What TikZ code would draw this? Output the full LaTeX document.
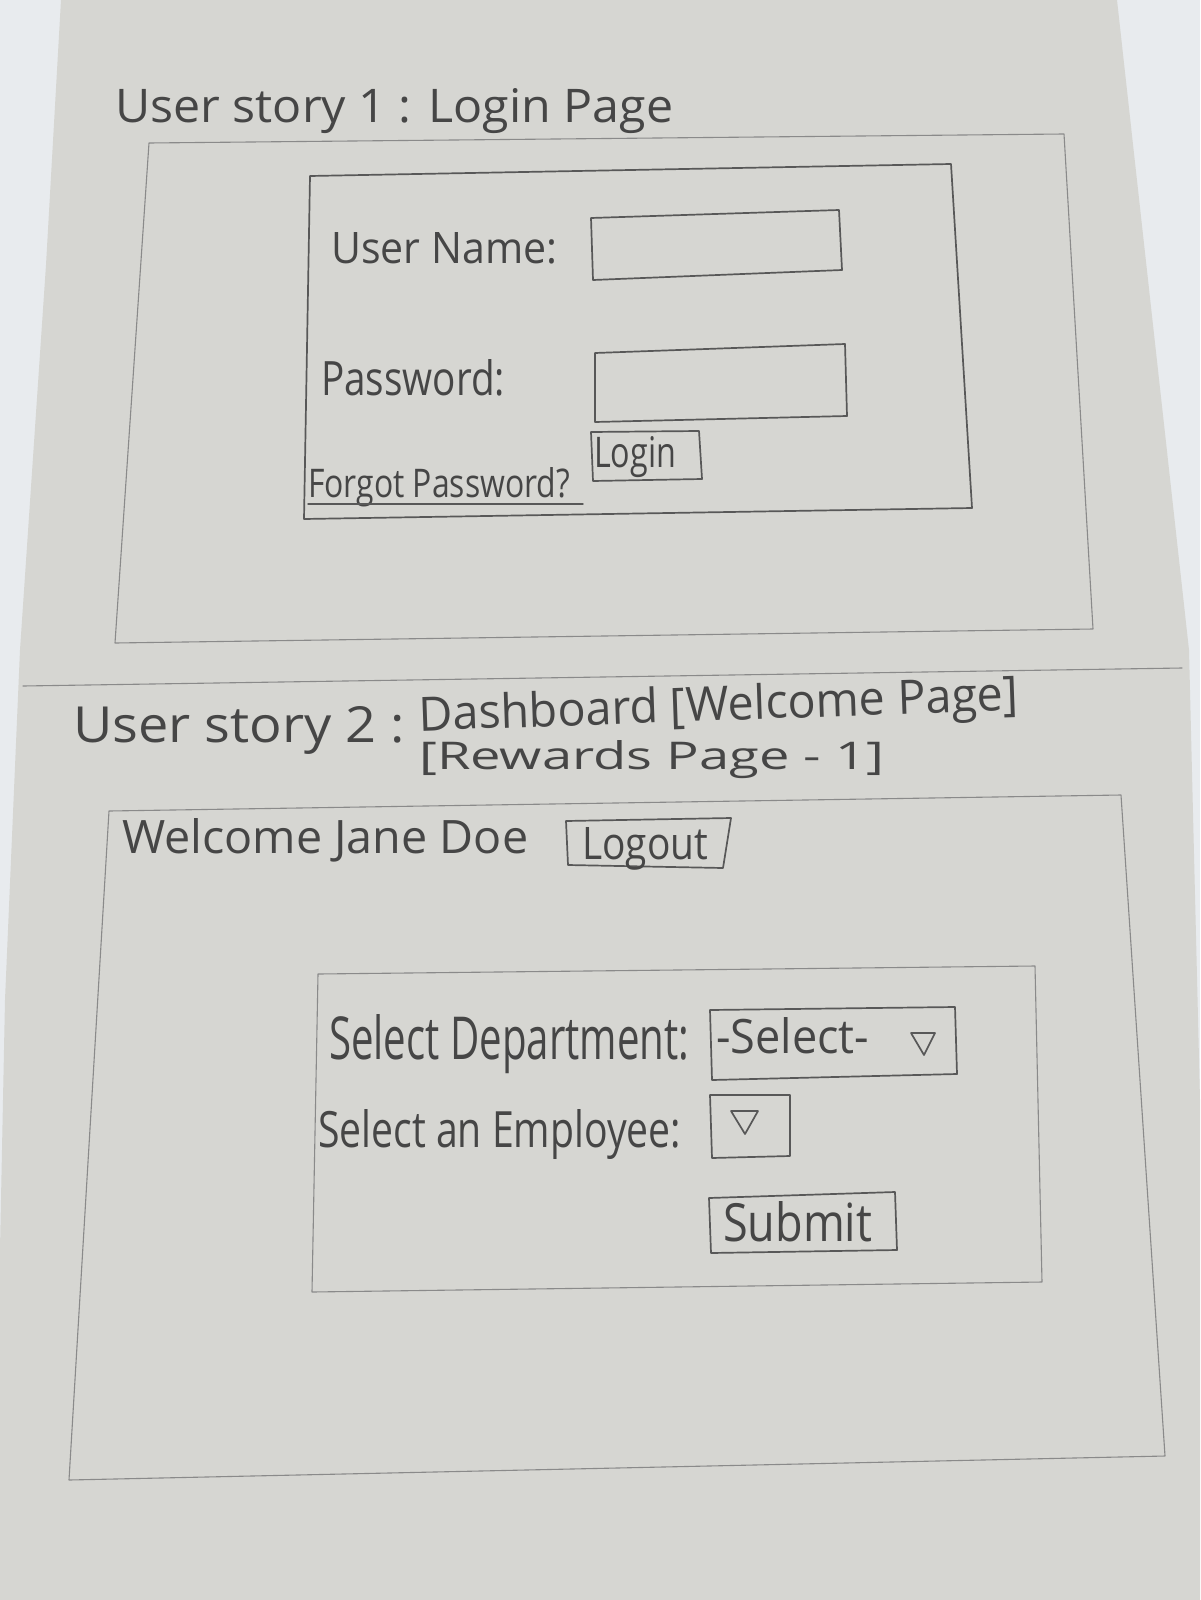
\documentclass[tikz,border=0pt]{standalone}
\usepackage{graphicx}
\usepackage{fontspec}
\setmainfont{Open Sans}
\definecolor{backdrop}{RGB}{232,235,238}
\definecolor{paper}{RGB}{214,214,210}
\definecolor{ink}{RGB}{70,70,70}
\definecolor{pencil}{RGB}{88,88,88}
\definecolor{pencilfaint}{RGB}{138,138,138}
% handwritten label stretched to a given width and height (in pt)
\newcommand\hw[3]{\resizebox{#1pt}{#2pt}{#3}}
\begin{document}
\begin{tikzpicture}[x=1pt,y=-1pt,
  pencil/.style={draw=pencil,line width=1.7pt,line join=round,line cap=round},
  faint/.style={draw=pencilfaint,line width=1.1pt,line join=round,line cap=round},
  hand/.style={text=ink,inner sep=0pt,anchor=base west}]
\useasboundingbox (0,0) rectangle (1200,1600);
\fill[backdrop] (0,0) rectangle (1200,1600);
% sheet of paper
\fill[paper] (61,0) -- (1117,0) -- (1189,650) -- (1200,1100) -- (1200,1600)
  -- (0,1600) -- (0,1250) -- (5,1000) -- (20,650) -- (46,265) -- cycle;

% ---------- user story 1 ----------
\node[hand] (title1) at (115,123) {\hw{558}{34}{User story 1 : Login Page}};
\draw[faint] (149,143) -- (1064,134) -- (1093,629) -- (115,643) -- cycle;
\draw[pencil] (310,176) -- (951,164) -- (972,508) -- (304,519) -- cycle;

\node[hand] (uname) at (331,263) {\hw{226}{31}{User Name:}};
\draw[pencil] (591,218) -- (839,210) -- (842,270) -- (593,280) -- cycle;

\node[hand] (pword) at (321,395) {\hw{184}{36}{Password:}};
\draw[pencil] (595,353) -- (845,344) -- (847,416) -- (595,422) -- cycle;

\node[hand] (forgot) at (308,497) {\hw{262}{30}{Forgot Password?}};
\draw[pencil,line width=1.4pt] (308,504) -- (583,504);

\draw[pencil] (591,432) -- (699,431) -- (702,479) -- (593,481) -- cycle;
\node[hand] (login) at (594,467) {\hw{82}{31}{Login}};

% divider between the two stories
\draw[faint] (23,686) -- (1182,668);

% ---------- user story 2 ----------
\node[hand] (title2a) at (73,742) {\hw{332}{36}{User story 2 :}};
\node[hand,rotate=2] (title2b) at (419,731) {\hw{600}{36}{Dashboard [Welcome Page]}};
\node[hand] (title2c) at (419,769) {\hw{465}{29}{[Rewards Page - 1]}};

\draw[faint] (109,811) -- (1121,795) -- (1165,1456) -- (69,1480) -- cycle;

\node[hand] (welcome) at (122,853) {\hw{406}{35}{Welcome Jane Doe}};
\draw[pencil] (566,821) -- (731,818) -- (723,868) -- (568,865) -- cycle;
\node[hand] (logout) at (582,859) {\hw{126}{32}{Logout}};

\draw[faint] (318,974) -- (1035,966) -- (1042,1282) -- (312,1292) -- cycle;

\node[hand] (dept) at (329,1059) {\hw{360}{45}{Select Department:}};
\draw[pencil] (710,1010) -- (955,1007) -- (957,1074) -- (712,1080) -- cycle;
\node[hand] (deptsel) at (716,1053) {\hw{153}{36}{-Select-}};
\draw[pencil] (911,1033) -- (935,1033) -- (924,1055) -- cycle;

\node[hand] (emp) at (318,1147) {\hw{363}{38}{Select an Employee:}};
\draw[pencil] (710,1095) -- (790,1095) -- (790,1156) -- (712,1158) -- cycle;
\draw[pencil] (731,1111) -- (758,1111) -- (745,1134) -- cycle;

\draw[pencil] (709,1198) -- (895,1192) -- (897,1250) -- (711,1253) -- cycle;
\node[hand] (submit) at (723,1241) {\hw{149}{40}{Submit}};
\end{tikzpicture}
\end{document}
